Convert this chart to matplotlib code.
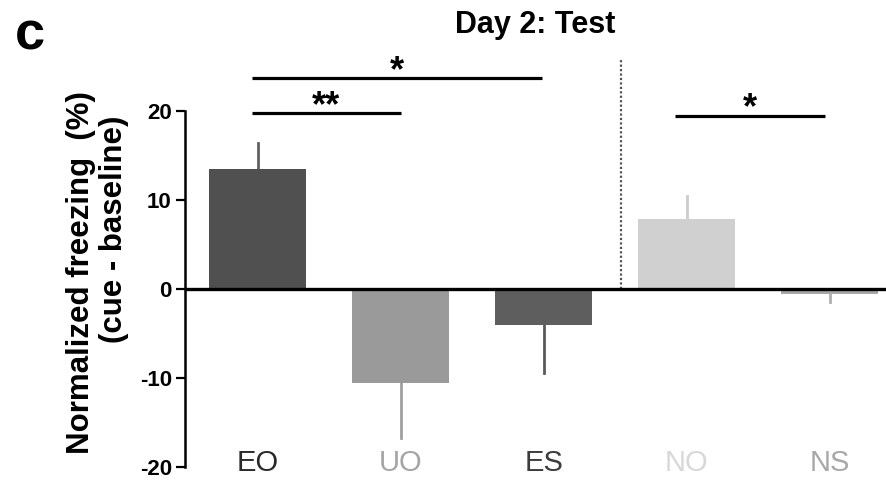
import matplotlib
matplotlib.use("Agg")
import matplotlib.pyplot as plt
import numpy as np

plt.rcParams["font.family"] = ["Liberation Sans", "DejaVu Sans"]
plt.rcParams["axes.unicode_minus"] = False

# data
groups = ["EO", "UO", "ES", "NO", "NS"]
means = [13.5, -10.6, -4.1, 7.9, -0.5]
sems = [2.9, 6.2, 5.3, 2.6, 0.9]
bar_colors = ["#505050", "#9a9a9a", "#5e5e5e", "#d0d0d0", "#a8a8a8"]
err_colors = ["#606060", "#a0a0a0", "#5a5a5a", "#cccccc", "#b0b0b0"]
label_colors = ["#2a2a2a", "#a5a5a5", "#3c3c3c", "#d8d8d8", "#a8a8a8"]

# significance brackets: (x start, x end, height, label)
sig_lines = [(-0.04, 1.99, 23.7, "*"), (-0.04, 1.0, 19.8, "**"), (2.92, 3.97, 19.5, "*")]
divider_x = 2.54

fig = plt.figure(figsize=(8.87, 4.82), dpi=100)
ax = fig.add_axes([0.2086, 0.0131, 0.7914, 0.885])

x = np.arange(len(groups))
ax.bar(x, means, width=0.68, color=bar_colors, zorder=2)

for xi, m, s, c in zip(x, means, sems, err_colors):
    ax.plot([xi, xi], [m, m + np.sign(m) * s], color=c, lw=2, zorder=1)

ax.axhline(0, color="black", lw=2.4, zorder=3)
ax.plot([divider_x, divider_x], [0, 25.8], color="#555555", lw=1.6, ls=(0, (1, 1)), zorder=1)

for x0, x1, h, lab in sig_lines:
    ax.plot([x0, x1], [h, h], color="black", lw=2.3, solid_capstyle="butt")
    ax.text((x0 + x1) / 2, h - 0.3, lab, ha="center", va="baseline",
            fontsize=26, fontweight="bold")

for xi, g, c in zip(x, groups, label_colors):
    ax.text(xi, -19.6, g, ha="center", va="center", fontsize=21, color=c)

ax.set_xlim(-0.507, 4.40)
ax.set_ylim(-21, 27)
ax.set_yticks([-20, -10, 0, 10, 20])
ax.tick_params(axis="y", direction="out", length=6.5, width=1.6, pad=3,
               labelsize=16)
for lbl in ax.get_yticklabels():
    lbl.set_fontweight("bold")
ax.set_xticks([])
for side in ["top", "right", "bottom"]:
    ax.spines[side].set_visible(False)
ax.spines["left"].set_bounds(-20, 20)
ax.spines["left"].set_linewidth(1.8)

fig.text(81 / 887, 1 - 273 / 482, "Normalized freezing  (%)", rotation=90,
         ha="center", va="center", fontsize=22.5, fontweight="bold")
fig.text(114 / 887, 1 - 229 / 482, "(cue - baseline)", rotation=90,
         ha="center", va="center", fontsize=22.5, fontweight="bold")
fig.text(535 / 887, 1 - 33 / 482, "Day 2: Test", ha="center", va="baseline",
         fontsize=22, fontweight="bold")
fig.text(15 / 887, 1 - 50 / 482, "c", ha="left", va="baseline",
         fontsize=39, fontweight="black")

fig.savefig("out.png", dpi=100)
